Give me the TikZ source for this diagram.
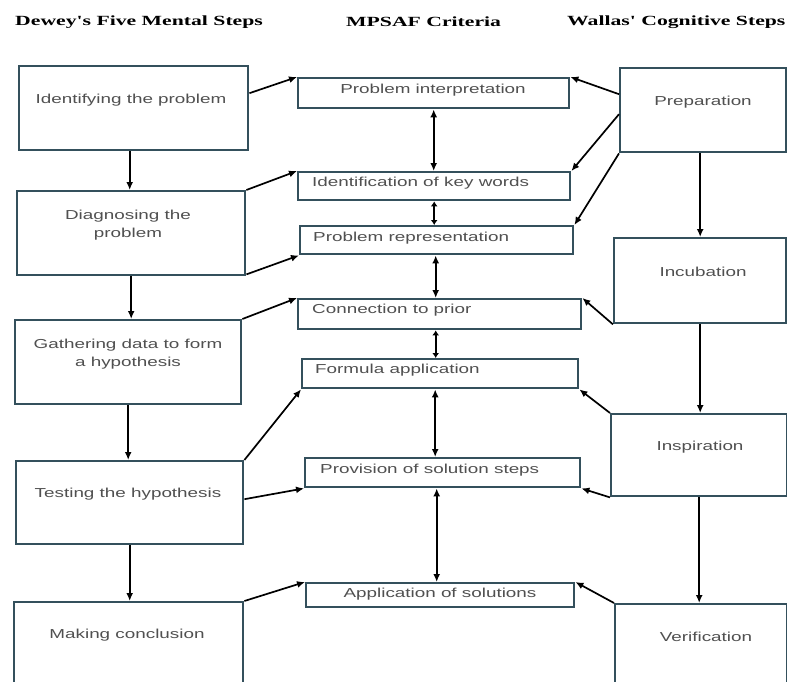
\documentclass[tikz,border=0pt]{standalone}
\usepackage{fontspec}
\setmainfont{Liberation Serif}
\newfontfamily\bodyfont[FakeStretch=1.45]{Liberation Sans}
\newfontfamily\headfont[FakeStretch=1.55]{Liberation Serif}
\usetikzlibrary{arrows.meta,calc}
\definecolor{boxc}{HTML}{34505C}
\definecolor{txtc}{HTML}{505050}
\begin{document}
\begin{tikzpicture}[x=1pt,y=-1pt,
  box/.style={draw=boxc,line width=2.4pt,fill=white,inner sep=0pt,anchor=north west},
  txt/.style={text=txtc,font=\bodyfont\fontsize{13}{18}\selectfont,inner sep=0pt,align=center},
  head/.style={font=\headfont\bfseries\fontsize{14}{16}\selectfont,inner sep=0pt,anchor=west},
  arr/.style={line width=1.7pt,-{Latex[length=8pt,width=7pt]}},
  darr/.style={line width=1.7pt,{Latex[length=8pt,width=7pt]}-{Latex[length=8pt,width=7pt]}},
  sarr/.style={line width=1.7pt,{Latex[length=5pt,width=7pt]}-{Latex[length=5pt,width=7pt]}}]
\useasboundingbox (0,0) rectangle (787,682);
\begin{scope}
\clip (0,0) rectangle (787,682);
% headers
\node[head] (h1) at (15,22) {Dewey's Five Mental Steps};
\node[head] (h2) at (346,22) {MPSAF Criteria};
\node[head] (h3) at (567,22) {Wallas' Cognitive Steps};
% left boxes
\node[box,minimum width=229pt,minimum height=84pt] (b1) at (18,65) {};
\node[box,minimum width=228pt,minimum height=84pt] (b2) at (16,190) {};
\node[box,minimum width=226pt,minimum height=84pt] (b3) at (14,319) {};
\node[box,minimum width=227pt,minimum height=83pt] (b4) at (15,460) {};
\node[box,minimum width=229pt,minimum height=110pt] (b5) at (13,601) {};
\node[txt] (tb1) at (131,100) {Identifying the problem};
\node[txt] (tb2) at (128,225.5) {Diagnosing the\\problem};
\node[txt] (tb3) at (128,354) {Gathering data to form\\a hypothesis};
\node[txt] (tb4) at (128,494) {Testing the hypothesis};
\node[txt] (tb5) at (127,635) {Making conclusion};
% middle boxes
\node[box,minimum width=271pt,minimum height=30pt] (m1) at (297,77) {};
\node[box,minimum width=272pt,minimum height=28pt] (m2) at (297,171) {};
\node[box,minimum width=273pt,minimum height=28pt] (m3) at (299,225) {};
\node[box,minimum width=283pt,minimum height=30pt] (m4) at (297,298) {};
\node[box,minimum width=276pt,minimum height=29pt] (m5) at (301,358) {};
\node[box,minimum width=275pt,minimum height=29pt] (m6) at (304,457) {};
\node[box,minimum width=268pt,minimum height=24pt] (m7) at (305,582) {};
\node[txt] (tm1) at (433,90) {Problem interpretation};
\node[txt,anchor=west] (tm2) at (312,183) {Identification of key words};
\node[txt,anchor=west] (tm3) at (313,238) {Problem representation};
\node[txt,anchor=west] (tm4) at (312,310) {Connection to prior};
\node[txt,anchor=west] (tm5) at (315,370) {Formula application};
\node[txt,anchor=west] (tm6) at (320,470) {Provision of solution steps};
\node[txt] (tm7) at (440,594) {Application of solutions};
% right boxes
\node[box,minimum width=166pt,minimum height=84pt] (r1) at (619,67) {};
\node[box,minimum width=172pt,minimum height=85pt] (r2) at (613,237) {};
\node[box,minimum width=176pt,minimum height=82pt] (r3) at (610,413) {};
\node[box,minimum width=172pt,minimum height=110pt] (r4) at (614,603) {};
\node[txt] (tr1) at (703,102) {Preparation};
\node[txt] (tr2) at (703,272) {Incubation};
\node[txt] (tr3) at (700,447) {Inspiration};
\node[txt] (tr4) at (706,637) {Verification};
% left vertical arrows
\draw[arr] ([xshift=-4pt]b1.south) -- ([xshift=-4pt]b1.south |- b2.north);
\draw[arr] (b2.south) -- (b2.south |- b3.north);
\draw[arr] (b3.south) -- (b3.south |- b4.north);
\draw[arr] (b4.south) -- (b4.south |- b5.north);
% right vertical arrows
\draw[arr] ([xshift=-3pt]r1.south) -- ([xshift=-3pt]r1.south |- r2.north);
\draw[arr] (r2.south) -- (r2.south |- r3.north);
\draw[arr] (r3.south) -- (r3.south |- r4.north);
% middle double arrows
\draw[darr] (m1.south) -- (m1.south |- m2.north);
\draw[sarr] (m2.south) -- (m2.south |- m3.north);
\draw[darr] ([xshift=-1pt]m3.south) -- ([xshift=-1pt]m3.south |- m4.north);
\draw[sarr] ([xshift=-4pt]m4.south) -- ([xshift=-4pt]m4.south |- m5.north);
\draw[darr] ([xshift=-5pt]m5.south) -- ([xshift=-5pt]m5.south |- m6.north);
\draw[darr] ([xshift=-6pt]m6.south) -- ([xshift=-6pt]m6.south |- m7.north);
% left diagonal arrows
\draw[arr] ([yshift=15pt]b1.east) -- (m1.north west);
\draw[arr] (b2.north east) -- (m2.north west);
\draw[arr] ([yshift=2pt]b2.south east) -- (m3.south west);
\draw[arr] (b3.north east) -- (m4.north west);
\draw[arr] (b4.north east) -- (m5.south west);
\draw[arr] ([yshift=3.5pt]b4.east) -- (m6.south west);
\draw[arr] (b5.north east) -- (m7.north west);
% right diagonal arrows
\draw[arr] ([yshift=16pt]r1.west) -- (m1.north east);
\draw[arr] ([yshift=-4pt]r1.west) -- (m2.north east);
\draw[arr] (r1.south west) -- (m3.north east);
\draw[arr] (r2.south west) -- (m4.north east);
\draw[arr] (r3.north west) -- (m5.south east);
\draw[arr] (r3.south west) -- (m6.south east);
\draw[arr] (r4.north west) -- (m7.north east);
\end{scope}
\end{tikzpicture}
\end{document}
